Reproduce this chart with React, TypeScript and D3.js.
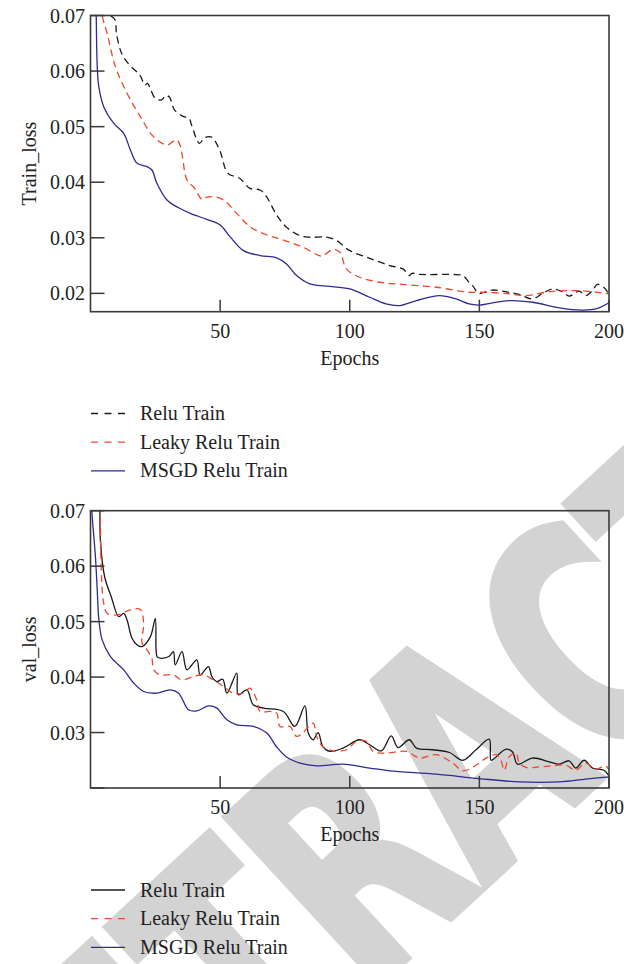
import * as d3 from 'd3'

// epochs on the x axis, shared by both panels
const epochTicks = [50, 100, 150, 200]
const trainTicks = [0.02, 0.03, 0.04, 0.05, 0.06, 0.07]
const valTicks = [0.02, 0.03, 0.04, 0.05, 0.06, 0.07]
const valTickLabels = [0.03, 0.04, 0.05, 0.06, 0.07]

// [epoch, loss]
const trainRelu: [number, number][] = [
  [6, 0.074], [7.5, 0.0702], [9.5, 0.0692], [10, 0.0668], [12, 0.0632], [15, 0.0611], [19, 0.0593],
  [21, 0.0575], [22, 0.0578], [23, 0.0569], [25, 0.0551], [27.4, 0.0548], [29, 0.0556], [30.5, 0.0553],
  [32.4, 0.053], [35.5, 0.0519], [38, 0.0515], [39, 0.0503], [42, 0.047], [44, 0.048], [46.7, 0.0481],
  [49.8, 0.0458], [53, 0.0416], [57.5, 0.0407], [61.5, 0.0389], [65.4, 0.0386], [67.9, 0.0374],
  [71.8, 0.0341], [75.6, 0.0319], [80.8, 0.0304], [84.6, 0.0301], [91, 0.0301], [94.9, 0.0295],
  [100, 0.0277], [107.7, 0.0263], [115.4, 0.025], [120.5, 0.0244], [123, 0.0232], [124, 0.0236],
  [127, 0.0234], [139.6, 0.0234], [143.6, 0.0232], [146, 0.022], [147.4, 0.0214], [149.7, 0.02],
  [152.6, 0.0203], [155, 0.0206], [160, 0.0203], [165.4, 0.0198], [170.5, 0.019], [174.4, 0.02],
  [178.2, 0.0208], [182, 0.0203], [184.6, 0.0195], [188.5, 0.0204], [191, 0.0196], [193.6, 0.0205],
  [195.5, 0.0216], [198, 0.0211], [200, 0.0198],
]
const trainLeaky: [number, number][] = [
  [3.5, 0.074], [4.5, 0.07], [6.4, 0.0668], [9.6, 0.0608], [14.1, 0.056], [19.2, 0.0518], [24.3, 0.0482],
  [29.5, 0.0467], [32, 0.0474], [33.3, 0.0476], [34.6, 0.0466], [35.5, 0.0445], [37.2, 0.0404],
  [40, 0.039], [43, 0.0369], [44, 0.0372], [47.4, 0.0374], [51.3, 0.0368], [56.4, 0.0344], [61.5, 0.032],
  [68, 0.0305], [74.4, 0.0296], [82, 0.0283], [89.1, 0.0267], [91, 0.0272], [93.6, 0.0279], [96.2, 0.0274],
  [98.7, 0.0244], [103.8, 0.0229], [111.5, 0.022], [120.5, 0.0216], [133.3, 0.0211], [146, 0.0202],
  [150, 0.0202], [160, 0.02], [168, 0.0196], [175.6, 0.0202], [183.3, 0.0205], [191, 0.0204],
  [198.7, 0.02], [200, 0.0199],
]
const trainMsgd: [number, number][] = [
  [1.5, 0.09], [2.2, 0.07], [2.6, 0.0608], [3.2, 0.0572], [5.1, 0.0536], [9, 0.0506], [12.8, 0.0488],
  [15.4, 0.0458], [18, 0.0434], [21.8, 0.0428], [23.7, 0.0422], [25.6, 0.0398], [29.5, 0.0368],
  [34, 0.0354], [38.5, 0.0344], [44.9, 0.0333], [50, 0.0323], [53.8, 0.0302], [59, 0.0277],
  [65.4, 0.0268], [71.8, 0.0264], [75.6, 0.0253], [79.5, 0.0232], [84.6, 0.0217], [91, 0.0213],
  [100, 0.0208], [107.7, 0.0193], [114, 0.0181], [119.2, 0.0178], [125.7, 0.0187], [134.6, 0.0196],
  [141, 0.019], [146, 0.0181], [150, 0.0179], [155, 0.0183], [161.5, 0.0187], [170.5, 0.0184],
  [180.8, 0.0174], [189.7, 0.017], [194.9, 0.0172], [200, 0.0183],
]

const valRelu: [number, number][] = [
  [3, 0.075], [3.6, 0.07], [3.8, 0.0647], [5.5, 0.058], [8, 0.0545], [10.9, 0.0509], [12.8, 0.0515],
  [14.1, 0.0503], [16, 0.047], [18, 0.0458], [19.9, 0.0455], [23.1, 0.0473], [25, 0.0506], [25.3, 0.0449],
  [25.8, 0.0436], [28.2, 0.0434], [30.5, 0.0438], [32, 0.0446], [32.7, 0.0422], [35.3, 0.0446],
  [37.2, 0.0413], [41, 0.0431], [42.3, 0.0404], [45.5, 0.0419], [46.8, 0.0401], [48.7, 0.0392],
  [51, 0.0396], [52.6, 0.0371], [56.4, 0.0407], [57, 0.0368], [60.3, 0.0377], [62.8, 0.035],
  [66.7, 0.0344], [74.4, 0.0338], [78.8, 0.0311], [82.7, 0.0348], [84, 0.0299], [85.9, 0.0287],
  [87.8, 0.03], [89.7, 0.0274], [92.3, 0.0266], [97.4, 0.0272], [103.8, 0.0287], [107.7, 0.0278],
  [112.2, 0.0267], [116, 0.0294], [118.6, 0.0273], [123, 0.0287], [125.7, 0.0272], [132, 0.0269],
  [138.5, 0.0264], [143.6, 0.025], [148.7, 0.0269], [153.8, 0.0288], [154.5, 0.025], [156.4, 0.0256],
  [160.3, 0.027], [162.8, 0.0265], [164.7, 0.0243], [170.5, 0.0254], [177, 0.0247], [180.8, 0.0243],
  [184.6, 0.0249], [187.2, 0.0236], [190.4, 0.025], [193.6, 0.0236], [198, 0.0232], [200, 0.0222],
]
const valLeaky: [number, number][] = [
  [3.6, 0.075], [3.8, 0.07], [3.9, 0.0647], [4.3, 0.0575], [5.1, 0.0533], [6.4, 0.0515], [10.3, 0.0512],
  [15.4, 0.0521], [19.2, 0.0522], [20.5, 0.0497], [19.9, 0.0461], [21.8, 0.0449], [23.7, 0.0433],
  [24.4, 0.0413], [26.9, 0.0404], [32, 0.0404], [35.3, 0.0395], [39.7, 0.0401], [43.6, 0.0404],
  [47.4, 0.0395], [51.3, 0.0383], [55.1, 0.0371], [59, 0.0371], [61.5, 0.038], [64.1, 0.0359],
  [65.4, 0.0338], [69.2, 0.0338], [71.8, 0.0335], [73.1, 0.0311], [76.9, 0.0311], [79.5, 0.0293],
  [82, 0.03], [85.9, 0.0317], [87.2, 0.0293], [89.7, 0.0274], [93.6, 0.0267], [98.7, 0.0269],
  [102.6, 0.0284], [106.4, 0.0284], [109, 0.0266], [114, 0.0263], [121.8, 0.0266], [126.9, 0.0254],
  [133.3, 0.026], [139.7, 0.0245], [143.6, 0.0231], [148.7, 0.0241], [152.6, 0.0254], [156.4, 0.026],
  [158.3, 0.025], [159.6, 0.0232], [161.5, 0.0256], [164.1, 0.0263], [165.4, 0.0245], [168, 0.0237],
  [173.1, 0.0238], [178.2, 0.024], [183.3, 0.0241], [187.2, 0.0232], [191, 0.0245], [194.9, 0.0234],
  [198.7, 0.024], [200, 0.0232],
]
const valMsgd: [number, number][] = [
  [0, 0.075], [0.5, 0.07], [1.9, 0.0617], [2.6, 0.0557], [3.2, 0.0505], [4.5, 0.0467], [7.7, 0.0437],
  [12.8, 0.0413], [16.7, 0.0389], [20.5, 0.0374], [25.6, 0.0371], [30.8, 0.0377], [34, 0.0371],
  [37.8, 0.0341], [41, 0.0339], [45.5, 0.0348], [48.7, 0.0344], [52.6, 0.0323], [56.4, 0.0314],
  [62.8, 0.0311], [68, 0.0299], [71.8, 0.0274], [75.6, 0.0256], [80.8, 0.0245], [87.2, 0.024],
  [97.4, 0.0243], [107.7, 0.0236], [115.4, 0.0231], [133.3, 0.0225], [150, 0.0217], [165.4, 0.0211],
  [180.8, 0.0211], [191, 0.0216], [200, 0.022],
]

const FONT = "'Liberation Serif', 'DejaVu Serif', serif"
const AXIS = '#3a3a3a'
const BLACK = '#1a1a1a'
const RED = '#f2462a'
const BLUE = '#2e2a90'

type Series = { name: string, data: [number, number][], color: string, dash?: string }

function Panel({ id, top, bottom, yMin, ticks, labeled, title, series, legendY }: {
  id: string, top: number, bottom: number, yMin: number, ticks: number[], labeled: number[],
  title: string, series: Series[], legendY: number
}) {
  const left = 90.5, right = 609
  const x = d3.scaleLinear().domain([0, 200]).range([left, right])
  const y = d3.scaleLinear().domain([yMin, 0.07]).range([bottom, top])
  const line = d3.line<[number, number]>()
    .x(d => x(d[0])).y(d => y(d[1]))
    .curve(d3.curveCatmullRom.alpha(0.5))
  const fmt = d3.format('.2f')

  return (
    <g>
      <defs>
        <clipPath id={id}>
          <rect x={left} y={top} width={right - left} height={bottom - top} />
        </clipPath>
      </defs>
      <g clipPath={`url(#${id})`}>
        {series.map(s => (
          <path key={s.name} d={line(s.data) || ''} fill="none" stroke={s.color}
            strokeWidth={1.3} strokeDasharray={s.dash ? '7,4.5' : undefined} />
        ))}
      </g>
      <rect x={left} y={top} width={right - left} height={bottom - top} fill="none" stroke={AXIS} strokeWidth={1.6} />
      {ticks.map(t => (
        <line key={t} x1={left} x2={left + 14} y1={y(t)} y2={y(t)} stroke={AXIS} strokeWidth={1.5} />
      ))}
      {labeled.map(t => (
        <text key={t} x={85} y={y(t)} dy="0.35em" textAnchor="end" fontSize={20} fill="#222">{fmt(t)}</text>
      ))}
      {epochTicks.map(t => (
        <g key={t}>
          <line x1={x(t)} x2={x(t)} y1={bottom} y2={bottom - 12} stroke={AXIS} strokeWidth={1.5} />
          <text x={x(t)} y={bottom + 26} textAnchor="middle" fontSize={20} fill="#222">{t}</text>
        </g>
      ))}
      <text x={(left + right) / 2} y={bottom + 53} textAnchor="middle" fontSize={20} fill="#222">Epochs</text>
      <text transform={`translate(36,${(top + bottom) / 2}) rotate(-90)`} textAnchor="middle" fontSize={20} fill="#222">{title}</text>
      {series.map((s, i) => (
        <g key={s.name} transform={`translate(0,${legendY + i * 28.7})`}>
          <line x1={91} x2={125} y1={0} y2={0} stroke={s.color} strokeWidth={1.3}
            strokeDasharray={s.dash ? '7,6.5' : undefined} />
          <text x={140} y={6.5} fontSize={20} fill="#222">{s.name}</text>
        </g>
      ))}
    </g>
  )
}

export default function App() {
  const trainSeries: Series[] = [
    { name: 'Relu Train', data: trainRelu, color: BLACK, dash: 'y' },
    { name: 'Leaky Relu Train', data: trainLeaky, color: RED, dash: 'y' },
    { name: 'MSGD Relu Train', data: trainMsgd, color: BLUE },
  ]
  const valSeries: Series[] = [
    { name: 'Relu Train', data: valRelu, color: BLACK },
    { name: 'Leaky Relu Train', data: valLeaky, color: RED, dash: 'y' },
    { name: 'MSGD Relu Train', data: valMsgd, color: BLUE },
  ]

  return (
    <svg width={624} height={964} style={{ position: 'absolute', left: 0, top: 0, background: '#fff' }} fontFamily={FONT}>
      {/* watermark across the page, behind the charts */}
      <g transform="translate(470,748) rotate(-42.7) scale(0.68,1)">
        <text textAnchor="middle" dy="0.36em" fontSize={310} fontWeight="bold"
          fontFamily="'DejaVu Sans', sans-serif" fill="#d3d3d3" stroke="#d3d3d3" strokeWidth={8}>RETRACTED</text>
      </g>
      <Panel id="clipTrain" top={15.5} bottom={311.7} yMin={0.0167} ticks={trainTicks} labeled={trainTicks}
        title="Train_loss" series={trainSeries} legendY={413.5} />
      <Panel id="clipVal" top={510.7} bottom={788} yMin={0.02} ticks={valTicks} labeled={valTickLabels}
        title="val_loss" series={valSeries} legendY={890} />
    </svg>
  )
}
